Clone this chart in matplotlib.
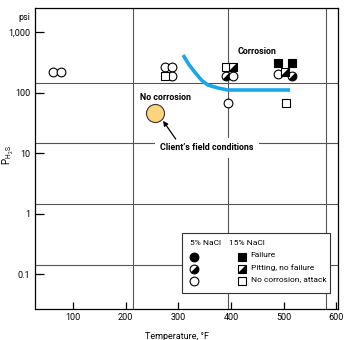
import numpy as np
import matplotlib
matplotlib.use("Agg")
import matplotlib.pyplot as plt
from matplotlib.markers import MarkerStyle
from matplotlib.transforms import Affine2D

plt.rcParams['font.family'] = ['Roboto', 'DejaVu Sans']

# 5% NaCl specimens (circles): temperature F, pressure psi, result
c_temp = [62, 77, 275, 288, 288, 390, 404, 394, 489, 516]
c_psi = [219, 219, 264, 264, 188, 188, 188, 67, 202, 188]
c_res = ['none', 'none', 'none', 'none', 'none', 'pit', 'none', 'none', 'none', 'pit']

# 15% NaCl specimens (squares)
s_temp = [275, 390, 404, 489, 516, 502, 504]
s_psi = [188, 264, 264, 307, 307, 219, 67]
s_res = ['none', 'none', 'pit', 'fail', 'fail', 'pit', 'none']

# corrosion boundary
curve_temp = [309, 320, 331, 344, 356, 375, 394, 450, 512]
curve_psi = [417, 290, 218, 160, 133, 119, 110, 110, 110]

# client's field conditions
field_temp = [255]
field_psi = [46]

# offset grid lines of the original figure
grid_x = [214, 394, 580]
grid_y = [144, 14.6, 1.44, 0.14]

x_ticks = [100, 200, 300, 400, 500, 600]
y_ticks = [0.1, 1, 10, 100, 1000]
y_ticklabels = ['0.1', '1', '10', '100', '1,000']

half_circle = MarkerStyle('o', fillstyle='right', transform=Affine2D().rotate_deg(-45))
tri = [(-1, -1), (1, -1), (1, 1)]


def draw_circle(ax, x, y, res, **kw):
    ms = 6.3
    if res == 'fail':
        ax.plot(x, y, 'o', ms=ms, mfc='black', mec='black', mew=0.8, zorder=5, **kw)
    elif res == 'pit':
        ax.plot(x, y, marker=half_circle, ms=ms, color='black', mfc='black',
                mfcalt='white', mec='black', mew=0.8, zorder=5, **kw)
    else:
        ax.plot(x, y, 'o', ms=ms, mfc='white', mec='black', mew=0.8, zorder=5, **kw)


def draw_square(ax, x, y, res, **kw):
    ms = 6.0
    if res == 'fail':
        ax.plot(x, y, 's', ms=ms, mfc='black', mec='black', mew=0.8, zorder=5, **kw)
    else:
        ax.plot(x, y, 's', ms=ms, mfc='white', mec='black', mew=0.8, zorder=5, **kw)
        if res == 'pit':
            ax.plot(x, y, marker=tri, ms=ms, mfc='black', mec='black', mew=0.3, zorder=6, **kw)


fig = plt.figure(figsize=(3.5, 3.4), dpi=100)
ax = fig.add_axes([0.0986, 0.0912, 0.8671, 0.8853])

ax.set_yscale('log')
ax.set_xlim(27, 603)
ax.set_ylim(0.0264, 2495)

for gx in grid_x:
    ax.axvline(gx, color='#555555', lw=0.8, zorder=1)
for gy in grid_y:
    ax.axhline(gy, color='#555555', lw=0.8, zorder=1)

ax.plot(curve_temp, curve_psi, color='#1aa7e8', lw=2.6, zorder=4, solid_capstyle='butt')

for x, y, r in zip(c_temp, c_psi, c_res):
    draw_circle(ax, x, y, r)
for x, y, r in zip(s_temp, s_psi, s_res):
    draw_square(ax, x, y, r)

ax.plot(field_temp, field_psi, 'o', ms=13, mfc='#fcd47c', mec='#333333', mew=0.8, zorder=5)

tfont = dict(fontsize=6.4, fontweight='bold')
ax.text(276, 84, 'No corrosion', ha='center', va='center', zorder=7, **tfont)
ax.text(449, 485, 'Corrosion', ha='center', va='center', zorder=7, **tfont)
ax.text(354, 12.1, 'Client\u2019s field conditions', ha='center', va='center', zorder=7,
        bbox=dict(boxstyle='square,pad=0.6', fc='white', ec='none'), **tfont)
ax.annotate('', xy=(271, 34), xytext=(295, 17.0),
            arrowprops=dict(arrowstyle='-|>', color='black', lw=0.9,
                            mutation_scale=7, shrinkA=0, shrinkB=0), zorder=7)

# legend box
lg = plt.Rectangle((0.486, 0.053), 0.488, 0.2, transform=ax.transAxes,
                   fc='white', ec='#333333', lw=0.8, zorder=8)
ax.add_patch(lg)
lfs = 6
ax.text(0.512, 0.219, '5% NaCl', transform=ax.transAxes, fontsize=lfs,
        va='center', ha='left', zorder=9)
ax.text(0.641, 0.219, '15% NaCl', transform=ax.transAxes, fontsize=lfs,
        va='center', ha='left', zorder=9)
leg_res = ['fail', 'pit', 'none']
leg_lab = ['Failure', 'Pitting, no failure', 'No corrosion, attack']
leg_y = [0.173, 0.133, 0.093]
for r, lab, yy in zip(leg_res, leg_lab, leg_y):
    draw_circle(ax, 0.526, yy, r, transform=ax.transAxes)
    draw_square(ax, 0.684, yy, r, transform=ax.transAxes)
    ax.text(0.712, yy + 0.006, lab, transform=ax.transAxes, fontsize=lfs,
            va='center', ha='left', zorder=9)
for l in ax.lines[-9:]:
    l.set_zorder(10)

ax.set_xticks(x_ticks)
ax.set_xticklabels([str(t) for t in x_ticks])
ax.set_yticks(y_ticks)
ax.set_yticklabels(y_ticklabels)
ax.yaxis.set_minor_locator(matplotlib.ticker.NullLocator())
ax.tick_params(axis='y', direction='in', length=6.5, width=0.9, pad=3, labelsize=6.5)
ax.tick_params(axis='x', direction='in', length=5, width=0.9, pad=3, labelsize=6.5)

for sp in ax.spines.values():
    sp.set_linewidth(0.9)

ax.set_xlabel('Temperature, \u00b0F', fontsize=6.5)
ax.xaxis.set_label_coords(0.47, -0.076)
ax.set_ylabel(r'$\mathregular{P_{H_2S}}$', fontsize=7)
ax.yaxis.set_label_coords(-0.062, 0.51)
ax.text(-0.015, 0.967, 'psi', transform=ax.transAxes, fontsize=6.5, ha='right', va='center')

fig.savefig('out.png', dpi=100)
